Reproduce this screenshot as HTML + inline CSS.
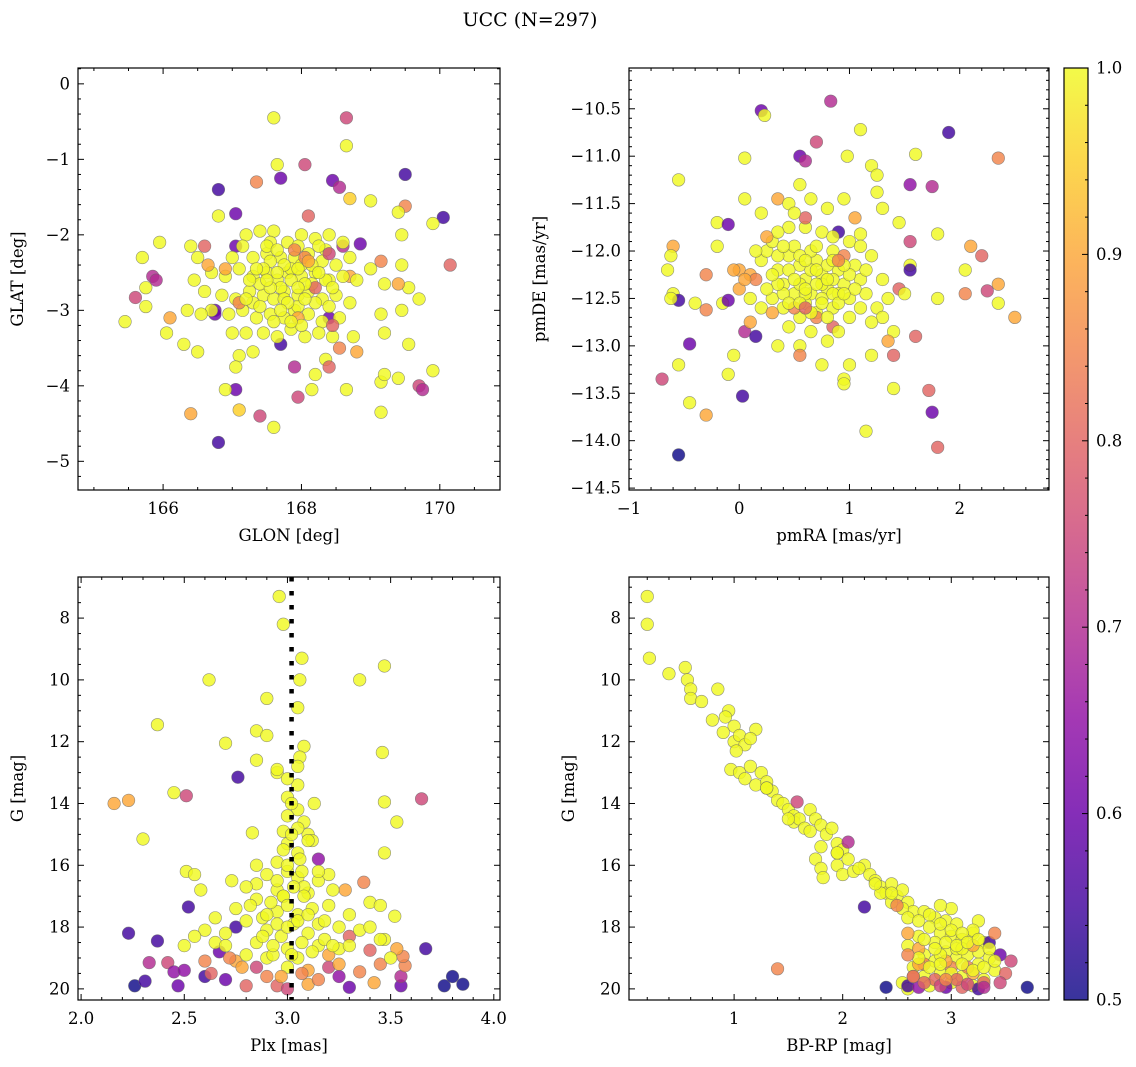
<!DOCTYPE html>
<html><head><meta charset="utf-8">
<style>
html,body{margin:0;padding:0;background:#fff;}
svg{display:block;font-family:"DejaVu Serif","Liberation Serif",serif;}
</style></head>
<body>
<svg id="fig" width="1136" height="1067" viewBox="0 0 1136 1067" xmlns="http://www.w3.org/2000/svg">
<text x="530" y="26" text-anchor="middle" font-size="19">UCC (N=297)</text>
</svg>
<script>
// ---------- Panel 1 data: GLON / GLAT ----------
const glon=[167.6,168.65,168.65,167.65,168.05,167.7,168.45,168.55,167.35,169.5,166.8,170.05,169.5,168.1,167.05,166.8,168.7,169.0,169.4,169.9,168.85,168.4,168.6,165.95,165.7,166.4,166.6,167.05,170.15,169.15,169.45,169.45,165.85,165.9,165.6,165.75,165.75,165.45,166.1,166.05,166.3,166.5,166.75,166.75,167.0,167.1,167.3,167.05,167.7,167.9,168.2,168.35,168.4,168.55,168.8,168.4,168.65,169.15,169.2,169.4,169.55,169.9,169.7,169.75,169.15,167.05,166.9,166.4,167.1,167.4,167.6,166.8,167.95,168.15,169.7,169.2,169.55,169.4,169.45,169.15,169.2,168.75,168.7,169.0,
167.2,167.4,167.6,167.8,168.0,168.2,168.35,167.0,167.3,167.5,167.7,167.9,168.1,168.3,168.5,168.7,166.7,166.9,167.1,167.3,167.5,167.65,167.8,168.0,168.2,168.4,168.6,168.8,166.6,166.85,167.05,167.25,167.45,167.6,167.75,167.95,168.1,168.3,168.5,168.7,166.7,166.95,167.15,167.35,167.55,167.75,167.9,168.1,168.3,168.55,167.2,167.45,167.65,167.85,168.05,168.25,168.45,167.55,167.85,167.4,168.15,167.95,167.3,168.4,167.7,168.0,167.15,168.6,166.5,166.45,166.55,166.35,
166.9,167.1,168.2,168.45,167.95,168.05,166.65,168.4,
167.55,167.75,167.95,168.15,167.45,167.65,167.85,168.05,167.55,167.75,167.95,168.2,167.4,167.6,167.8,168.0,167.5,167.95,168.25,167.35,168.35,167.25,167.65,168.05,167.85,167.7,167.5,168.25,167.2,168.45,167.9,168.1];
const glat=[-0.45,-0.45,-0.82,-1.07,-1.07,-1.25,-1.28,-1.37,-1.3,-1.2,-1.4,-1.77,-1.62,-1.75,-1.72,-1.75,-1.52,-1.55,-1.7,-1.85,-2.12,-2.0,-2.15,-2.1,-2.3,-2.15,-2.15,-2.15,-2.4,-2.35,-2.4,-2.0,-2.55,-2.6,-2.83,-2.7,-2.95,-3.15,-3.1,-3.3,-3.45,-3.55,-3.0,-3.05,-3.3,-3.6,-3.55,-3.75,-3.45,-3.75,-3.85,-3.65,-3.75,-3.5,-3.55,-3.1,-4.05,-3.95,-3.85,-3.9,-3.45,-3.8,-4.0,-4.05,-4.35,-4.05,-4.05,-4.37,-4.32,-4.4,-4.55,-4.75,-4.15,-4.05,-2.85,-2.65,-2.7,-2.65,-3.0,-3.05,-3.3,-3.35,-2.55,-2.45,
-2.0,-1.95,-1.95,-2.1,-2.0,-2.05,-2.2,-2.3,-2.3,-2.25,-2.3,-2.3,-2.25,-2.35,-2.4,-2.3,-2.5,-2.55,-2.45,-2.55,-2.5,-2.6,-2.5,-2.55,-2.5,-2.6,-2.55,-2.6,-2.75,-2.8,-2.85,-2.75,-2.8,-2.85,-2.75,-2.8,-2.75,-2.85,-2.8,-2.9,-3.0,-3.05,-3.0,-3.1,-3.05,-3.1,-3.0,-3.05,-3.15,-3.1,-3.3,-3.3,-3.35,-3.25,-3.35,-3.3,-3.35,-2.1,-2.45,-2.65,-2.65,-2.95,-2.9,-2.95,-2.7,-2.4,-2.15,-2.1,-2.3,-2.6,-3.05,-3.0,
-2.45,-2.9,-2.7,-3.2,-3.1,-2.3,-2.4,-2.25,
-2.35,-2.4,-2.45,-2.4,-2.45,-2.5,-2.6,-2.65,-2.7,-2.85,-2.7,-2.9,-2.95,-3.15,-2.9,-3.2,-2.15,-2.15,-2.15,-2.45,-2.6,-2.6,-2.2,-2.85,-3.15,-3.0,-2.6,-2.5,-2.85,-2.7,-2.2,-2.35];
const prob1=[1,0.75,1,1,0.75,0.6,0.6,0.7,0.85,0.55,0.55,0.55,0.85,0.8,0.6,1,0.95,1,1,1,0.6,1,0.7,1,1,1,0.8,0.6,0.8,0.85,1,1,0.7,0.7,0.75,1,1,1,0.9,1,1,1,0.6,0.6,1,1,1,1,0.55,0.7,1,1,0.8,0.85,0.9,0.6,1,1,1,1,1,1,0.75,0.7,1,0.6,1,0.9,0.95,0.75,1,0.55,0.75,1,1,1,1,0.9,1,1,1,1,0.9,1,
1,1,1,1,1,1,1,1,1,1,1,1,1,1,1,1,1,1,1,1,1,1,1,1,1,1,1,1,1,1,1,1,1,1,1,1,1,1,1,1,1,1,1,1,1,1,1,1,1,1,1,1,1,1,1,1,1,1,1,1,1,1,1,1,1,1,1,1,1,1,1,1,
0.9,0.85,0.8,0.8,0.9,0.85,0.9,0.75,
1,1,1,1,1,1,1,1,1,1,1,1,1,1,1,1,1,1,1,1,1,1,1,1,1,1,1,1,1,1,0.85,0.9];

// ---------- Panel 2 data: pmRA / pmDE ----------
const pmra=[0.2,0.23,0.83,1.1,1.9,0.05,0.55,0.6,0.98,1.6,2.35,0.7,-0.55,1.2,1.25,1.55,1.75,1.25,0.05,0.35,0.45,1.3,0.2,-0.2,-0.1,-0.2,-0.6,-0.62,-0.3,-0.65,0.9,1.1,1.45,1.55,1.8,2.1,2.05,2.2,2.35,2.05,2.35,2.5,2.25,1.8,1.55,1.55,1.6,1.4,1.2,1.0,0.95,1.4,1.72,1.75,1.8,1.15,0.95,-0.7,-0.55,-0.6,-0.55,-0.62,-0.4,-0.3,-0.15,-0.1,-0.45,-0.1,-0.05,0.03,0.05,0.1,0.15,-0.3,-0.45,-0.55,0.75,0.8,0.55,0.35,0.55,
0.0,0.1,0.15,0.2,0.25,0.3,0.35,0.4,0.45,0.5,0.55,0.6,0.65,0.7,0.75,0.8,0.85,0.9,0.95,1.0,1.05,1.1,1.15,1.2,1.25,0.3,0.4,0.5,0.55,0.6,0.7,0.75,0.85,0.9,1.0,0.2,0.1,0.0,0.45,0.65,0.85,0.7,0.5,0.6,0.45,0.75,0.85,1.0,0.35,0.25,0.15,0.05,0.55,0.65,0.8,0.95,1.1,1.3,1.35,1.45,1.5,1.3,1.2,1.4,1.35,0.9,0.6,0.8,0.5,0.65,0.55,0.95,1.05,0.3,-0.05,0.35,0.75,1.0,0.6,0.85,
0.45,0.55,0.65,0.7,0.8,0.85,0.95,0.5,0.6,0.75,0.9,0.4,0.35,1.05,0.7,0.85,0.6,0.45,1.1,0.8,0.55,0.65,0.3,0.25,1.15,0.95,0.4,0.7,0.9,0.6];
const pmde=[-10.52,-10.57,-10.42,-10.72,-10.75,-11.02,-11.0,-11.05,-11.0,-10.98,-11.02,-10.85,-11.25,-11.1,-11.2,-11.3,-11.32,-11.38,-11.45,-11.45,-11.5,-11.55,-11.6,-11.7,-11.72,-11.95,-11.95,-12.05,-12.25,-12.2,-11.8,-11.82,-11.7,-11.9,-11.82,-11.95,-12.2,-12.05,-12.35,-12.45,-12.55,-12.7,-12.42,-12.5,-12.15,-12.2,-12.9,-13.1,-13.1,-13.2,-13.35,-13.45,-13.47,-13.7,-14.07,-13.9,-13.4,-13.35,-13.2,-12.45,-12.52,-12.5,-12.55,-12.62,-12.55,-12.52,-12.98,-13.3,-13.1,-13.53,-12.85,-12.75,-12.9,-13.73,-13.6,-14.15,-13.2,-12.95,-13.0,-13.0,-13.1,
-12.2,-12.25,-12.3,-12.1,-12.0,-11.9,-12.2,-12.35,-12.05,-11.95,-12.15,-12.3,-12.45,-12.1,-12.25,-12.4,-12.0,-12.2,-12.35,-12.5,-12.15,-12.3,-12.45,-12.05,-12.6,-12.5,-12.6,-12.45,-12.7,-12.55,-12.65,-12.5,-12.6,-12.45,-12.7,-12.6,-12.5,-12.4,-12.8,-12.85,-12.8,-12.7,-12.6,-11.75,-11.75,-11.8,-11.85,-11.9,-11.8,-11.85,-12.0,-12.3,-12.35,-12.0,-12.15,-12.05,-11.95,-12.3,-12.5,-12.4,-12.45,-12.7,-12.75,-12.85,-12.95,-12.85,-11.65,-11.55,-11.6,-11.45,-11.3,-11.45,-11.65,-12.65,-12.2,-12.05,-12.35,-12.25,-12.45,-12.3,
-12.2,-12.05,-12.2,-12.35,-12.3,-12.45,-12.15,-12.3,-12.4,-12.55,-12.55,-12.45,-12.35,-12.4,-12.2,-12.1,-12.1,-12.55,-12.6,-12.7,-12.55,-12.65,-12.25,-12.4,-12.2,-12.45,-11.95,-11.95,-12.1,-12.6];
const prob2=[0.6,1,0.7,1,0.55,1,0.6,0.7,1,1,0.85,0.75,1,1,1,0.65,0.7,1,1,0.9,1,1,1,1,0.6,1,0.9,1,0.85,1,0.55,1,1,0.75,1,0.9,1,0.8,0.9,0.85,1,0.9,0.75,1,1,0.55,0.8,0.8,1,1,1,1,0.8,0.6,0.8,1,1,0.75,1,1,0.55,1,1,0.85,1,0.6,0.6,1,1,0.55,0.7,0.9,0.55,0.9,1,0.5,1,1,1,1,0.85,
0.9,0.9,0.85,1,1,1,1,1,1,1,1,1,1,1,1,1,1,1,1,1,1,1,1,1,1,1,1,1,1,1,1,1,1,1,1,1,1,0.9,1,1,0.8,0.85,0.85,1,1,1,1,1,1,0.9,1,0.9,1,1,1,0.85,1,1,1,0.8,1,1,1,1,0.9,1,0.8,1,1,1,1,1,0.9,0.9,0.9,1,1,1,1,1,
1,1,1,1,1,1,1,1,1,1,1,1,1,1,1,1,1,1,1,1,1,1,1,1,1,1,1,1,0.85,0.8];

// ---------- Panel 3 data: Plx / G ----------
const plx=[2.96,2.98,3.07,3.47,3.06,2.62,3.35,2.9,3.05,2.37,2.85,2.9,3.08,2.7,3.46,2.85,3.06,3.05,2.76,2.95,2.45,2.51,2.16,2.23,3.65,3.47,2.83,2.3,3.53,3.47,2.51,2.55,2.73,2.23,2.37,2.52,3.67,2.26,2.31,2.33,2.47,3.76,3.85,3.8,3.55,3.55,3.57,3.56,3.53,3.47,3.37,3.4,3.52,2.42,2.45,2.5,2.6,2.63,2.67,2.7,2.75,2.75,2.8,2.85,2.95,3.0,3.1,3.15,3.2,3.25,3.3,3.35,3.42,3.45,3.4,3.3,3.2,3.1,2.9,2.6,2.65,2.7,2.8,2.85,2.9,2.95,3.05,3.1,3.15,3.2,3.25,3.3,3.35,3.0,3.05,2.9,2.8,3.15,3.25,2.75,2.85,2.95,3.05,3.1,3.15,3.2,2.9,2.95,3.05,3.1,3.08,3.05,3.0,3.05,2.98,3.12,3.0,2.92,3.0,3.12,2.88,3.18,2.97,3.28,2.65,2.6,2.55,3.4,3.45,2.5,3.5,2.58,3.45,3.1,3.15,2.93,2.98,3.08,3.03,2.85,3.22,
3.0,3.02,3.0,3.05,3.02,2.98,3.06,3.0,3.07,2.95,3.03,3.08,2.98,3.0,3.05,2.95,3.1,2.9,3.0,3.07,2.93,3.02,3.12,2.88,3.18,2.82,3.22,2.8,3.15,2.85,3.0,2.97,3.07,2.78,2.72,3.25,3.3,2.7,3.13,2.95];
const gmag3=[7.3,8.2,9.3,9.55,10.0,10.0,10.0,10.6,10.9,11.45,11.65,11.8,12.15,12.05,12.35,12.6,12.5,12.8,13.15,13.0,13.65,13.75,14.0,13.9,13.85,13.95,14.95,15.15,14.6,15.6,16.2,16.3,16.5,18.2,18.45,17.35,18.7,19.9,19.75,19.15,19.9,19.9,19.85,19.6,19.9,19.6,19.25,18.95,18.7,18.4,16.55,17.2,17.65,19.15,19.45,19.4,19.6,19.5,18.8,19.7,19.1,18.0,19.9,19.3,19.9,20.0,19.85,19.7,19.3,19.6,19.95,19.45,19.8,19.2,18.75,18.3,18.9,19.4,19.6,19.1,18.5,18.2,17.8,18.5,18.1,17.5,17.6,18.2,17.9,17.3,18.0,17.6,18.1,18.7,19.0,19.0,18.9,18.6,18.7,17.4,17.1,16.8,16.4,16.9,16.5,16.3,16.3,15.9,15.6,15.0,14.6,14.2,13.8,13.4,14.9,15.2,15.3,17.2,16.2,17.4,17.7,18.4,18.3,16.8,17.7,18.1,18.3,18.0,18.4,18.6,19.0,16.8,17.3,15.2,15.8,18.9,17.0,16.7,17.9,16.6,18.6,
13.2,14.0,14.4,14.8,15.0,15.5,15.8,16.0,16.2,16.5,16.7,17.0,17.0,17.3,17.8,17.9,17.6,17.6,18.0,18.5,18.6,18.9,18.8,18.3,17.8,17.3,16.8,16.7,16.2,16.0,19.3,19.6,19.5,19.3,19.0,19.2,18.6,18.6,14.0,12.9];
const prob3=[1,1,1,1,1,1,1,1,1,1,1,1,1,1,1,1,1,1,0.55,1,1,0.75,0.9,0.9,0.75,1,1,1,1,1,1,1,1,0.55,0.55,0.55,0.55,0.5,0.55,0.7,0.6,0.5,0.5,0.5,0.6,0.7,0.85,0.85,0.9,1,0.85,1,1,0.75,0.65,0.65,0.55,0.8,0.6,0.6,0.9,0.55,0.8,0.75,0.8,0.75,0.9,0.85,0.75,0.65,0.6,0.85,0.9,0.85,0.8,0.8,0.9,0.9,0.85,0.85,1,1,1,1,1,1,1,1,1,1,1,1,1,1,1,1,1,1,1,1,1,1,1,1,1,1,1,1,1,1,1,1,1,1,1,1,1,1,1,1,1,1,1,0.9,1,1,1,1,1,1,1,1,1,1,0.65,1,1,1,1,1,1,
1,1,1,1,1,1,1,1,1,1,1,1,1,1,1,1,1,1,1,1,1,1,1,1,1,1,1,1,1,1,1,0.9,0.85,0.9,0.85,0.9,1,1,1,1];

// ---------- Panel 4 data: BP-RP / G ----------
const bprp=[0.2,0.2,0.22,0.4,0.55,0.57,0.6,0.6,0.7,0.85,0.95,0.92,1.0,0.9,1.0,1.05,1.1,1.2,1.15,1.02,0.97,1.05,1.1,1.15,1.2,1.25,1.3,1.35,1.4,1.45,1.5,1.55,1.55,1.6,1.7,1.75,1.58,1.8,1.85,1.9,1.95,2.0,1.8,1.75,1.8,1.95,2.05,2.05,2.0,2.1,2.2,2.25,2.3,2.35,2.4,2.45,2.5,2.55,2.6,2.65,2.55,2.6,2.75,2.85,2.95,3.05,2.8,2.9,3.0,3.1,3.2,3.3,2.7,2.6,2.75,2.85,2.95,3.05,3.15,3.25,3.35,2.65,2.75,2.9,3.0,3.1,3.2,3.3,2.55,2.6,2.8,3.4,2.2,1.82,1.4,2.4,2.6,2.7,2.95,3.25,3.7,3.45,3.35,3.55,3.5,3.45,2.65,2.85,3.1,2.75,3.0,3.2,3.3,2.95,3.15,2.7,2.85,3.05,3.25,2.45,2.6,2.9,3.1,3.2,3.0,2.9,3.25,3.2,2.5,2.7,3.4,2.35,1.65,1.3,0.8,1.95,
2.7,2.8,2.9,3.0,3.1,2.75,2.85,2.95,3.05,3.15,3.25,3.35,2.7,2.8,2.9,3.0,3.1,3.2,3.3,3.4,2.65,2.75,2.9,3.05,3.15,3.3,2.6,2.95,2.45,2.3,2.15,1.95,1.7,1.5,1.3];
const gmag4=[7.3,8.2,9.3,9.8,9.6,10.0,10.3,10.6,10.7,10.3,11.0,11.2,11.5,11.7,12.0,11.8,12.1,11.6,11.9,12.3,12.9,13.0,13.2,12.8,13.4,13.0,13.3,13.6,13.9,14.0,14.2,14.4,14.6,14.5,14.2,14.5,13.95,14.7,15.0,14.8,15.3,15.5,15.4,15.8,16.1,16.0,15.8,15.25,16.3,16.2,16.0,16.3,16.5,16.7,16.9,16.6,17.0,16.8,17.2,17.5,17.4,17.7,17.5,17.7,17.8,17.9,18.0,18.2,18.3,18.4,18.2,18.5,18.3,18.6,18.9,19.1,18.8,19.0,18.9,19.2,19.0,19.3,19.6,19.5,19.8,19.6,19.9,19.7,19.8,20.0,19.9,19.4,17.35,16.4,19.35,19.95,19.9,19.95,19.95,20.0,19.95,18.9,18.5,19.1,19.5,19.8,19.6,19.7,19.95,19.2,19.3,19.5,19.8,19.1,19.3,18.7,18.5,18.7,18.8,17.2,18.2,18.9,18.7,18.6,17.4,17.3,17.8,18.1,17.3,19.2,18.2,16.9,14.8,13.5,11.3,15.6,
17.8,17.6,17.9,18.1,18.2,18.4,18.7,18.5,18.6,18.5,18.4,18.7,19.0,19.3,19.2,19.5,19.2,19.4,19.3,19.1,19.6,19.8,19.9,19.7,19.85,19.95,18.9,19.7,16.9,16.6,16.1,15.6,14.9,14.5,13.5];
const prob4=[1,1,1,1,1,1,1,1,1,1,1,1,1,1,1,1,1,1,1,1,1,1,1,1,1,1,1,1,1,1,1,1,1,1,1,1,0.75,1,1,1,1,1,1,1,1,1,1,0.7,1,1,1,1,1,1,1,1,1,1,1,1,1,1,1,1,1,1,1,1,1,1,1,1,1,1,1,1,1,1,1,1,1,1,1,1,1,1,1,1,1,1,1,1,0.55,1,0.85,0.5,0.55,0.65,0.6,0.55,0.5,0.6,0.55,0.75,0.8,0.75,0.7,0.8,0.8,0.85,0.85,0.9,0.8,0.9,0.85,0.9,1,1,1,1,0.9,1,1,0.9,1,1,1,1,0.85,0.9,0.85,1,1,1,1,1,
1,1,1,1,1,1,1,1,1,1,1,1,1,1,1,1,1,1,1,1,0.85,0.8,0.75,0.8,0.75,0.7,0.85,0.85,1,1,1,1,1,1,1];

// ---------- colour bar ----------
const cbarTicks=[0.5,0.6,0.7,0.8,0.9,1.0];

const NS="http://www.w3.org/2000/svg";
const svg=document.getElementById('fig');
function mk(tag,attrs,parent){const e=document.createElementNS(NS,tag);for(const k in attrs)e.setAttribute(k,attrs[k]);(parent||svg).appendChild(e);return e;}
const stops=[[0,'#0d0887'],[0.1,'#41049d'],[0.2,'#6a00a8'],[0.3,'#8f0da4'],[0.4,'#b12a90'],[0.5,'#cc4778'],[0.6,'#e16462'],[0.7,'#f2844b'],[0.8,'#fca636'],[0.9,'#fcce25'],[1,'#f0f921']];
function hx(c){return [parseInt(c.substr(1,2),16),parseInt(c.substr(3,2),16),parseInt(c.substr(5,2),16)];}
function plasma(p){let t=(p-0.5)/0.5;t=Math.max(0,Math.min(1,t));for(let i=1;i<stops.length;i++){if(t<=stops[i][0]){const a=stops[i-1],b=stops[i];const f=(t-a[0])/(b[0]-a[0]);const A=hx(a[1]),B=hx(b[1]);return 'rgb('+A.map((v,j)=>Math.round(v+(B[j]-v)*f)).join(',')+')';}}return stops[10][1];}

function panel(cfg){
  const g=mk('g',{});
  
  
  const {x0,x1,y0,y1,xmin,xmax,ymin,ymax}=cfg;
  const sx=v=>x0+(v-xmin)/(xmax-xmin)*(x1-x0);
  const sy=v=>cfg.invert? y0+(v-ymin)/(ymax-ymin)*(y1-y0) : y1-(v-ymin)/(ymax-ymin)*(y1-y0);
  const clip=mk('clipPath',{id:'c'+cfg.name},g);mk('rect',{x:x0,y:y0,width:x1-x0,height:y1-y0},clip);
  const pts=mk('g',{'clip-path':'url(#c'+cfg.name+')'},g);
  
  
  const n=Math.min(cfg.xs.length,cfg.ys.length,cfg.ps.length);
  for(let i=0;i<n;i++){
    const c=mk('circle',{cx:sx(cfg.xs[i]),cy:sy(cfg.ys[i]),r:6.3,fill:plasma(cfg.ps[i]),'fill-opacity':0.82,stroke:'#666','stroke-width':0.6,'stroke-opacity':0.7},pts);
    
    
  }
  if(cfg.vline!==undefined){
    const l=mk('line',{x1:sx(cfg.vline),x2:sx(cfg.vline),y1:y0,y2:y1,stroke:'#000','stroke-width':4.5,'stroke-dasharray':'4.5 9.5'},pts);
    
    
  }
  const fr=mk('rect',{x:x0,y:y0,width:x1-x0,height:y1-y0,fill:'none',stroke:'#000','stroke-width':1.2},g);
  
  
  const eps=1e-6;
  for(let v=Math.ceil(xmin/cfg.xminor-eps)*cfg.xminor;v<=xmax+eps;v+=cfg.xminor){
    const X=sx(v);const isMaj=Math.abs(v/cfg.xmajor-Math.round(v/cfg.xmajor))<1e-4;const L=isMaj?6:3;
    mk('line',{x1:X,x2:X,y1:y1,y2:y1-L,stroke:'#000','stroke-width':1},g);
    mk('line',{x1:X,x2:X,y1:y0,y2:y0+L,stroke:'#000','stroke-width':1},g);
    if(isMaj&&(!cfg.xlabs||cfg.xlabs.includes(Math.round(v*100)/100))){const t=mk('text',{x:X,y:y1+24,'text-anchor':'middle','font-size':16.5},g);t.textContent=cfg.xfmt(v);
      
      }
  }
  const lo=Math.min(ymin,ymax),hi=Math.max(ymin,ymax);
  for(let v=Math.ceil(lo/cfg.yminor-eps)*cfg.yminor;v<=hi+eps;v+=cfg.yminor){
    const Y=sy(v);const isMaj=Math.abs(v/cfg.ymajor-Math.round(v/cfg.ymajor))<1e-4;const L=isMaj?6:3;
    mk('line',{x1:x0,x2:x0+L,y1:Y,y2:Y,stroke:'#000','stroke-width':1},g);
    mk('line',{x1:x1,x2:x1-L,y1:Y,y2:Y,stroke:'#000','stroke-width':1},g);
    if(isMaj){const t=mk('text',{x:x0-8,y:Y+5.5,'text-anchor':'end','font-size':16.5},g);t.textContent=cfg.yfmt(v);
      
      }
  }
  const xt=mk('text',{x:(x0+x1)/2,y:y1+51,'text-anchor':'middle','font-size':16.5},g);xt.textContent=cfg.xlabel;
  
  
  const yx=cfg.ylabx;const ym=(y0+y1)/2;
  const yt=mk('text',{x:yx,y:ym,'text-anchor':'middle','font-size':16.5,transform:'rotate(-90 '+yx+' '+ym+')'},g);yt.textContent=cfg.ylabel;
  
  
}
const neg=v=>{const r=Math.round(v*100)/100;return r<0?'\u2212'+Math.abs(r):''+r;};
panel({name:'glon-glat-panel',x0:78,x1:500,y0:68,y1:490,xmin:164.77,xmax:170.87,ymin:-5.38,ymax:0.21,xmajor:2,xminor:0.5,ymajor:1,yminor:0.2,xfmt:v=>''+Math.round(v),yfmt:v=>neg(Math.round(v)),xlabel:'GLON [deg]',ylabel:'GLAT [deg]',ylabx:23,xs:glon,ys:glat,ps:prob1});
panel({name:'propermotion-panel',x0:629,x1:1049,y0:68,y1:490,xmin:-1.0,xmax:2.81,ymin:-14.52,ymax:-10.07,xmajor:1,xminor:0.2,ymajor:0.5,yminor:0.1,xfmt:v=>neg(Math.round(v)),yfmt:v=>neg(v).replace(/^(\u2212?\d+)$/,'$1.0'),xlabel:'pmRA [mas/yr]',ylabel:'pmDE [mas/yr]',ylabx:545,xs:pmra,ys:pmde,ps:prob2});
panel({name:'plx-g-panel',x0:78,x1:500,y0:577,y1:1000,xmin:1.985,xmax:4.03,ymin:6.67,ymax:20.36,invert:true,xmajor:0.5,xminor:0.1,ymajor:2,yminor:0.5,xfmt:v=>(Math.round(v*10)/10).toFixed(1),yfmt:v=>''+Math.round(v),xlabel:'Plx [mas]',ylabel:'G [mag]',ylabx:23,xs:plx,ys:gmag3,ps:prob3,vline:3.02});
panel({name:'cmd-panel',x0:629,x1:1049,y0:577,y1:1000,xmin:0.032,xmax:3.9,ymin:6.67,ymax:20.36,invert:true,xmajor:1,xminor:0.2,ymajor:2,yminor:0.5,xlabs:[1,2,3],xfmt:v=>''+Math.round(v),yfmt:v=>''+Math.round(v),xlabel:'BP-RP [mag]',ylabel:'G [mag]',ylabx:574,xs:bprp,ys:gmag4,ps:prob4});

const cb=mk('g',{});


const defs=mk('defs',{},cb);const lg=mk('linearGradient',{id:'pl',x1:0,y1:1,x2:0,y2:0},defs);
stops.forEach(s=>mk('stop',{offset:s[0],'stop-color':s[1],'stop-opacity':0.82},lg));
const cx0=1064,cx1=1088,cy0=68,cy1=1000;
mk('rect',{x:cx0,y:cy0,width:cx1-cx0,height:cy1-cy0,fill:'url(#pl)',stroke:'#000','stroke-width':1.2},cb);
const csy=v=>cy1-(v-0.5)/0.5*(cy1-cy0);
for(let k=0;k<=25;k++){const v=0.5+k*0.02;const Y=csy(v);const maj=k%5===0;mk('line',{x1:cx1,x2:cx1-(maj?6:3),y1:Y,y2:Y,stroke:'#000','stroke-width':1},cb);}
cbarTicks.forEach(v=>{const t=mk('text',{x:cx1+8,y:csy(v)+5.5,'font-size':16.5},cb);t.textContent=v.toFixed(1);
  
  });
</script>
</body></html>
